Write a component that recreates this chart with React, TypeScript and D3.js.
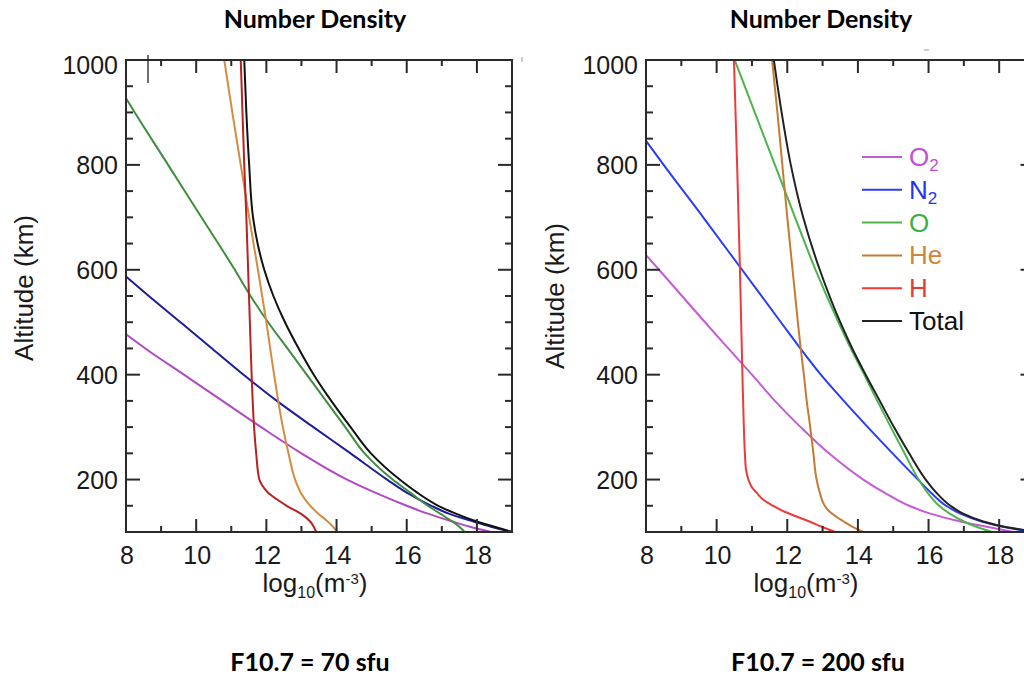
import React from "react";
import * as d3 from "d3";

// ---------- DATA (altitude in km, value = log10 number density in m^-3) ----------
// Left panel: F10.7 = 70 sfu
const L_O2_ALT = [477, 450, 400, 350, 300, 250, 200, 175, 150, 135, 120, 110, 100];
const L_O2 = [8.0, 8.55, 9.65, 10.75, 11.85, 13.0, 14.3, 15.1, 16.0, 16.6, 17.3, 17.8, 18.4];
const L_N2_ALT = [587, 550, 500, 450, 400, 350, 300, 250, 200, 175, 150, 135, 120, 110, 100];
const L_N2 = [8.0, 8.65, 9.55, 10.45, 11.35, 12.3, 13.34, 14.4, 15.44, 16.0, 16.7, 17.2, 17.9, 18.4, 19.0];
const L_O_ALT = [927, 900, 800, 700, 600, 550, 500, 450, 400, 350, 300, 250, 200, 175, 150, 135, 120, 110, 100];
const L_O = [8.0, 8.25, 9.2, 10.15, 11.1, 11.55, 12.05, 12.6, 13.15, 13.7, 14.25, 14.8, 15.6, 16.1, 16.6, 16.95, 17.3, 17.5, 17.65];
const L_HE_ALT = [1000, 900, 800, 700, 600, 500, 400, 300, 250, 200, 175, 150, 135, 120, 110, 100];
const L_HE = [10.8, 11.03, 11.27, 11.51, 11.76, 12.0, 12.22, 12.47, 12.63, 12.82, 12.98, 13.25, 13.48, 13.75, 13.9, 14.02];
const L_H_ALT = [1000, 900, 800, 700, 600, 500, 400, 300, 250, 200, 190, 175, 160, 150, 135, 120, 110, 100];
const L_H = [11.27, 11.32, 11.37, 11.43, 11.48, 11.53, 11.58, 11.65, 11.71, 11.8, 11.87, 12.05, 12.35, 12.58, 12.98, 13.25, 13.35, 13.42];
const L_TOT_ALT = [1000, 900, 800, 700, 650, 600, 550, 500, 450, 400, 350, 300, 250, 200, 175, 150, 135, 120, 110, 100];
const L_TOT = [11.37, 11.43, 11.51, 11.62, 11.75, 11.94, 12.2, 12.53, 12.92, 13.35, 13.85, 14.4, 14.98, 15.8, 16.3, 16.9, 17.4, 18.0, 18.5, 19.0];

// Right panel: F10.7 = 200 sfu
const R_O2_ALT = [628, 600, 500, 450, 400, 350, 300, 250, 200, 175, 150, 135, 120, 110, 100];
const R_O2 = [8.0, 8.37, 9.67, 10.33, 11.0, 11.65, 12.38, 13.18, 14.15, 14.75, 15.45, 16.05, 16.9, 17.65, 18.4];
const R_N2_ALT = [846, 800, 700, 600, 500, 450, 400, 350, 300, 250, 200, 175, 150, 135, 120, 110, 100];
const R_N2 = [8.0, 8.5, 9.62, 10.72, 11.82, 12.37, 12.95, 13.6, 14.28, 14.98, 15.7, 16.07, 16.5, 16.9, 17.5, 18.1, 18.9];
const R_O_ALT = [1000, 900, 800, 700, 600, 500, 450, 400, 350, 300, 250, 200, 175, 150, 135, 120, 110, 100];
const R_O = [10.51, 11.08, 11.65, 12.22, 12.8, 13.45, 13.8, 14.18, 14.55, 14.93, 15.32, 15.72, 15.97, 16.3, 16.6, 17.0, 17.35, 17.8];
const R_HE_ALT = [1000, 900, 800, 700, 600, 500, 450, 400, 350, 300, 250, 200, 175, 150, 140, 130, 120, 110, 100];
const R_HE = [11.57, 11.72, 11.86, 12.0, 12.15, 12.3, 12.38, 12.47, 12.55, 12.65, 12.74, 12.83, 12.92, 13.06, 13.18, 13.37, 13.6, 13.85, 14.15];
const R_H_ALT = [1000, 800, 600, 400, 300, 250, 220, 200, 185, 175, 160, 150, 140, 130, 120, 110, 100];
const R_H = [10.49, 10.58, 10.66, 10.73, 10.77, 10.8, 10.83, 10.9, 11.0, 11.13, 11.35, 11.6, 11.88, 12.25, 12.63, 12.98, 13.35];
const R_TOT_ALT = [1000, 900, 800, 700, 600, 500, 450, 400, 350, 300, 250, 200, 175, 150, 135, 120, 110, 100];
const R_TOT = [11.62, 11.84, 12.1, 12.45, 12.92, 13.5, 13.84, 14.22, 14.62, 15.02, 15.45, 15.92, 16.22, 16.62, 16.98, 17.55, 18.15, 19.1];

const SPECIES = ["O2", "N2", "O", "He", "H", "Total"];
const X_DOMAIN = [8, 19];
const Y_DOMAIN = [100, 1000];
const X_TICKS = d3.range(8, 20, 1);
const Y_TICKS = d3.range(100, 1001, 50);
const TITLE = "Number Density";
const SUBTITLES = ["F10.7 = 70 sfu", "F10.7 = 200 sfu"];

const LEFT_COLORS = ["#b04ac2", "#1d1d9e", "#3e8e3e", "#d48c40", "#b82222", "#111111"];
const RIGHT_COLORS = ["#c65bd8", "#2a3cf5", "#4db44d", "#c77a32", "#ee3a3a", "#222222"];
const LEGEND_COLORS = ["#c24fd0", "#1f33f0", "#3eae45", "#d2843c", "#e63a3a", "#111111"];

const LEFT_SERIES = [
  [L_O2_ALT, L_O2], [L_N2_ALT, L_N2], [L_O_ALT, L_O], [L_HE_ALT, L_HE], [L_H_ALT, L_H], [L_TOT_ALT, L_TOT],
];
const RIGHT_SERIES = [
  [R_O2_ALT, R_O2], [R_N2_ALT, R_N2], [R_O_ALT, R_O], [R_HE_ALT, R_HE], [R_H_ALT, R_H], [R_TOT_ALT, R_TOT],
];

const FONT = "'Liberation Sans', Arial, Helvetica, sans-serif";
const TFONT = "Lato, 'Open Sans', sans-serif";
const Y_TOP = 60;
const Y_BOT = 532;

function Panel({ id, x0, x1, series, colors, ylabX, ylabY, xlabX, legend, blur }) {
  const xs = d3.scaleLinear().domain(X_DOMAIN).range([x0, x1]);
  const ys = d3.scaleLinear().domain(Y_DOMAIN).range([Y_BOT, Y_TOP]);
  const line = d3
    .line()
    .x((d) => xs(d[1]))
    .y((d) => ys(d[0]))
    .curve(d3.curveMonotoneY);
  const stroke = "#2a2a2a";
  return (
    <g>
      <defs>
        <clipPath id={id}>
          <rect x={x0} y={Y_TOP} width={x1 - x0} height={Y_BOT - Y_TOP} />
        </clipPath>
      </defs>
      <g clipPath={`url(#${id})`} style={blur ? { filter: "blur(0.35px)" } : undefined}>
        {series.map(([alts, vals], i) => {
          const pts = alts.map((a, k) => [a, vals[k]]);
          return <path key={i} d={line(pts)} fill="none" stroke={colors[i]} strokeWidth={2} />;
        })}
      </g>
      {/* frame */}
      <rect x={x0} y={Y_TOP} width={x1 - x0} height={Y_BOT - Y_TOP} fill="none" stroke={stroke} strokeWidth={2} />
      {/* x ticks */}
      {X_TICKS.filter((t) => t > X_DOMAIN[0] && t < X_DOMAIN[1]).map((t) => {
        const len = t % 2 === 0 ? 13 : 6;
        const x = xs(t);
        return (
          <g key={"xt" + t}>
            <line x1={x} x2={x} y1={Y_BOT} y2={Y_BOT - len} stroke={stroke} strokeWidth={2} />
            <line x1={x} x2={x} y1={Y_TOP} y2={Y_TOP + len} stroke={stroke} strokeWidth={2} />
          </g>
        );
      })}
      {/* y ticks */}
      {Y_TICKS.filter((t) => t > Y_DOMAIN[0] && t < Y_DOMAIN[1]).map((t) => {
        const len = t % 200 === 0 ? 14 : 7;
        const y = ys(t);
        return (
          <g key={"yt" + t}>
            <line x1={x0} x2={x0 + len} y1={y} y2={y} stroke={stroke} strokeWidth={2} />
            <line x1={x1} x2={x1 - len} y1={y} y2={y} stroke={stroke} strokeWidth={2} />
          </g>
        );
      })}
      {/* tick labels */}
      {X_TICKS.filter((t) => t % 2 === 0).map((t) => (
        <text key={"xl" + t} x={xs(t) + 1} y={564} textAnchor="middle" fontSize={25} fontFamily={FONT} fill="#1a1a1a">
          {t}
        </text>
      ))}
      {Y_TICKS.filter((t) => t % 200 === 0).map((t) => (
        <text
          key={"yl" + t}
          x={x0 - 8}
          y={ys(t) + 9 + (t === Y_DOMAIN[1] ? 5 : 0)}
          textAnchor="end"
          fontSize={25}
          fontFamily={FONT}
          fill="#1a1a1a"
        >
          {t}
        </text>
      ))}
      {/* axis labels */}
      <text
        transform={`translate(${ylabX},${ylabY}) rotate(-90)`}
        textAnchor="middle"
        fontSize={26}
        fontFamily={FONT}
        fill="#1a1a1a"
      >
        Altitude (km)
      </text>
      <text x={xlabX} y={592} textAnchor="middle" fontSize={26} fontFamily={FONT} fill="#1a1a1a">
        log
        <tspan dy={6} fontSize={16}>10</tspan>
        <tspan dy={-6}>(m</tspan>
        <tspan dy={-8} fontSize={15}>-3</tspan>
        <tspan dy={8}>)</tspan>
      </text>
      {legend && (
        <g>
          {SPECIES.map((s, i) => {
            const y = 157 + i * 32.8;
            const sub = s.endsWith("2");
            return (
              <g key={"lg" + s}>
                <line x1={862} x2={902} y1={y} y2={y} stroke={RIGHT_COLORS[i]} strokeWidth={2} />
                <text x={909} y={y + 9} fontSize={26} fontFamily={FONT} fill={LEGEND_COLORS[i]}>
                  {sub ? s.slice(0, -1) : s}
                  {sub && (
                    <tspan dy={5} fontSize={17}>
                      2
                    </tspan>
                  )}
                </text>
              </g>
            );
          })}
        </g>
      )}
    </g>
  );
}

export default function App() {
  return (
    <div style={{ position: "absolute", left: 0, top: 0, width: 1024, height: 675, background: "#fff" }}>
      <svg width={1024} height={675} viewBox="0 0 1024 675" style={{ display: "block" }}>
        <rect x={0} y={0} width={1024} height={675} fill="#fff" />
        <text x={315} y={28} textAnchor="middle" fontSize={25} fontWeight={700} fontFamily={TFONT} fill="#000">
          {TITLE}
        </text>
        <text x={821} y={28} textAnchor="middle" fontSize={25} fontWeight={700} fontFamily={TFONT} fill="#000">
          {TITLE}
        </text>
        <Panel
          id="clipL"
          x0={126}
          x1={512}
          series={LEFT_SERIES}
          colors={LEFT_COLORS}
          ylabX={33}
          ylabY={288}
          xlabX={315}
          legend={false}
          blur={true}
        />
        <Panel
          id="clipR"
          x0={646}
          x1={1034.5}
          series={RIGHT_SERIES}
          colors={RIGHT_COLORS}
          ylabX={564}
          ylabY={296}
          xlabX={806}
          legend={true}
          blur={false}
        />
        {/* stray marks in the source image */}
        <line x1={148} x2={148} y1={55} y2={83} stroke="#222" strokeWidth={1.3} />
        <line x1={522} x2={522} y1={57} y2={62} stroke="#999" strokeWidth={1} />
        <line x1={924} x2={929} y1={50} y2={50} stroke="#999" strokeWidth={1} />
        <text x={310} y={671} textAnchor="middle" fontSize={25} fontWeight={700} fontFamily={TFONT} fill="#000">
          {SUBTITLES[0]}
        </text>
        <text x={818} y={671} textAnchor="middle" fontSize={25} fontWeight={700} fontFamily={TFONT} fill="#000">
          {SUBTITLES[1]}
        </text>
      </svg>
    </div>
  );
}
